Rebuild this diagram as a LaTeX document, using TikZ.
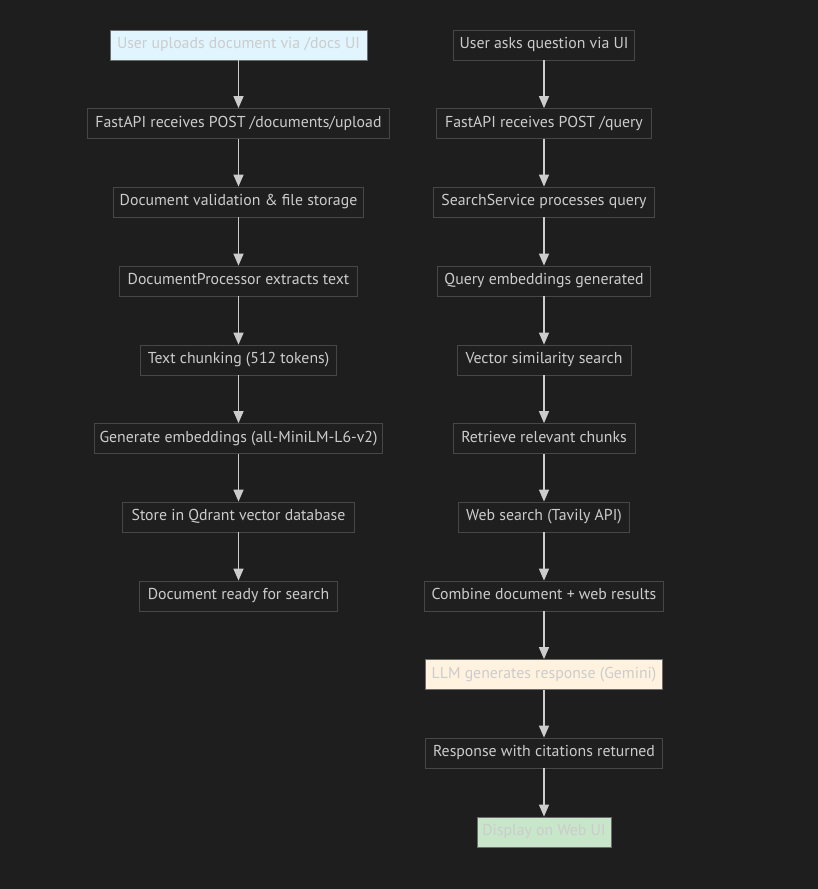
\documentclass[tikz,border=0pt]{standalone}
\usepackage{fontspec}
\setmainfont{PT Sans}
\usetikzlibrary{arrows.meta}

\definecolor{bgdark}{HTML}{1E1E1E}
\definecolor{boxfill}{HTML}{1F1F1F}
\definecolor{boxline}{HTML}{474747}
\definecolor{boxtext}{HTML}{CCCCCC}
\definecolor{linkgray}{HTML}{CCCCCC}
\definecolor{uploadblue}{HTML}{E1F5FE}
\definecolor{llmorange}{HTML}{FFF3E0}
\definecolor{displaygreen}{HTML}{C8E6C9}

\tikzset{
	flowbox/.style={draw=boxline, fill=boxfill, text=boxtext, line width=0.8pt,
		minimum height=30pt, inner sep=0pt, text height=11pt, text depth=3.5pt,
		font=\fontsize{15.8}{18}\selectfont},
	uploadbox/.style={flowbox, fill=uploadblue, draw=boxline!80},
	llmbox/.style={flowbox, fill=llmorange, draw=boxline!80},
	displaybox/.style={flowbox, fill=displaygreen, draw=boxline!80},
	flowlink/.style={draw=linkgray, line width=1.4pt, -{Triangle[width=10pt, length=12pt]}}
}

\begin{document}
\begin{tikzpicture}[x=1pt, y=-1pt]
	\def\xL{238.5}
	\def\xR{544}
	
	%Hintergrund
	\fill[bgdark] (0,0) rectangle (818,889);
	
	%linke Spalte: Upload
	\node[uploadbox, minimum width=257pt] (up1) at (\xL, 45) {User uploads document via /docs UI};
	\node[flowbox, minimum width=302pt] (up2) at (\xL, 123.5) {FastAPI receives POST /documents/upload};
	\node[flowbox, minimum width=250pt] (up3) at (\xL, 202) {Document validation \& file storage};
	\node[flowbox, minimum width=238pt] (up4) at (\xL, 281) {DocumentProcessor extracts text};
	\node[flowbox, minimum width=196pt] (up5) at (\xL, 360) {Text chunking (512 tokens)};
	\node[flowbox, minimum width=288pt] (up6) at (\xL, 438.5) {Generate embeddings (all-MiniLM-L6-v2)};
	\node[flowbox, minimum width=232pt] (up7) at (\xL, 517) {Store in Qdrant vector database};
	\node[flowbox, minimum width=198pt] (up8) at (\xL, 596) {Document ready for search};
	
	%rechte Spalte: Anfrage
	\node[flowbox, minimum width=181pt] (qu1) at (\xR, 45) {User asks question via UI};
	\node[flowbox, minimum width=215pt] (qu2) at (\xR, 123.5) {FastAPI receives POST /query};
	\node[flowbox, minimum width=221pt] (qu3) at (\xR, 202) {SearchService processes query};
	\node[flowbox, minimum width=213pt] (qu4) at (\xR, 281) {Query embeddings generated};
	\node[flowbox, minimum width=174pt] (qu5) at (\xR, 360) {Vector similarity search};
	\node[flowbox, minimum width=182pt] (qu6) at (\xR, 438.5) {Retrieve relevant chunks};
	\node[flowbox, minimum width=171pt] (qu7) at (\xR, 517) {Web search (Tavily API)};
	\node[flowbox, minimum width=239pt] (qu8) at (\xR, 596) {Combine document + web results};
	\node[llmbox, minimum width=237pt] (qu9) at (\xR, 674.5) {LLM generates response (Gemini)};
	\node[flowbox, minimum width=237pt] (qu10) at (\xR, 753) {Response with citations returned};
	\node[displaybox, minimum width=134pt] (qu11) at (\xR, 832) {Display on Web UI};
	
	%Pfeile
	\foreach \a/\b in {1/2, 2/3, 3/4, 4/5, 5/6, 6/7, 7/8}{
		\draw[flowlink] (up\a) -- (up\b);
	}
	\foreach \a/\b in {1/2, 2/3, 3/4, 4/5, 5/6, 6/7, 7/8, 8/9, 9/10, 10/11}{
		\draw[flowlink] (qu\a) -- (qu\b);
	}
	
\end{tikzpicture}
\end{document}
